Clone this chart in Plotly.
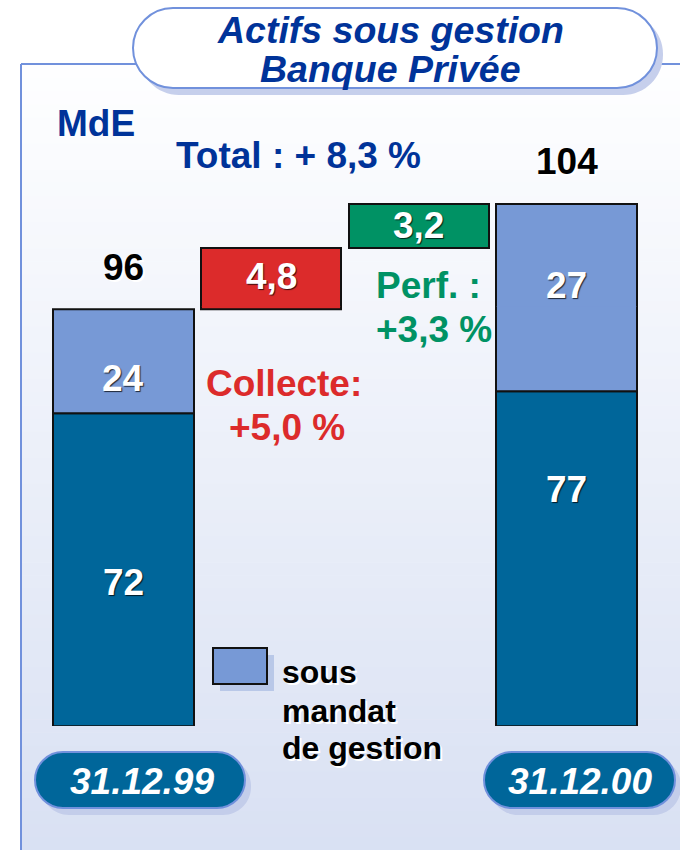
import plotly.graph_objects as go

# ---------------- data ----------------
dates = ["31.12.99", "31.12.00"]
hors_mandat = [72, 77]          # dark segment
sous_mandat = [24, 27]          # light segment ("sous mandat de gestion")
totals = [96, 104]
collecte = 4.8
perf = 3.2
collecte_pct = "+5,0 %"
perf_pct = "+3,3 %"
total_pct = "+ 8,3 %"
unit = "MdE"
title_lines = ["Actifs sous gestion", "Banque Privée"]
legend_lines = ["sous", "mandat", "de gestion"]

W, H = 680, 850
FONT = "Arial, 'Liberation Sans', sans-serif"
DARK = "#00669a"
LIGHT = "#7799d6"
RED = "#dc2b2b"
GREEN = "#009264"
NAVY = "#003399"
FRAME = "#7191dc"
FS = 37


def fx(px):
    return px / W


def fy(py):
    return 1 - py / H


def rrect_path(x0, y0, x1, y1, r):
    k = 0.5523 * r
    def P(x, y):
        return f"{fx(x):.5f},{fy(y):.5f}"
    s = f"M {P(x0 + r, y0)} L {P(x1 - r, y0)} "
    s += f"C {P(x1 - r + k, y0)} {P(x1, y0 + r - k)} {P(x1, y0 + r)} "
    s += f"L {P(x1, y1 - r)} "
    s += f"C {P(x1, y1 - r + k)} {P(x1 - r + k, y1)} {P(x1 - r, y1)} "
    s += f"L {P(x0 + r, y1)} "
    s += f"C {P(x0 + r - k, y1)} {P(x0, y1 - r + k)} {P(x0, y1 - r)} "
    s += f"L {P(x0, y0 + r)} "
    s += f"C {P(x0, y0 + r - k)} {P(x0 + r - k, y0)} {P(x0 + r, y0)} Z"
    return s


def fmt(v):
    return f"{v:.1f}".replace(".", ",")


fig = go.Figure()

# positions of the four columns
xpos_bars = [0, 3]
x_collecte = 1
x_perf = 2

bar_specs = [
    dict(x=xpos_bars, y=hors_mandat, base=[0, 0], color=DARK),
    dict(x=xpos_bars, y=sous_mandat, base=hors_mandat, color=LIGHT),
    dict(x=[x_collecte], y=[collecte], base=[totals[0]], color=RED),
    dict(x=[x_perf], y=[perf], base=[totals[0] + collecte], color=GREEN),
]
for yax in ["y", "y2"]:
    for b in bar_specs:
        fig.add_bar(x=b["x"], y=b["y"], base=b["base"], yaxis=yax, width=0.95,
                    marker=dict(color=b["color"], line=dict(color="#111111", width=2)),
                    showlegend=False, hoverinfo="skip")

shapes = []
# background gradient inside frame
top_c = (254, 254, 255)
bot_c = (217, 225, 243)
n = 60
y_top, y_bot = 65, 850
for i in range(n):
    t = i / (n - 1)
    c = tuple(round(top_c[j] + (bot_c[j] - top_c[j]) * t) for j in range(3))
    ya = y_top + (y_bot - y_top) * i / n
    yb = y_top + (y_bot - y_top) * (i + 1) / n + 0.6
    shapes.append(dict(type="rect", xref="paper", yref="paper", layer="below",
                       x0=fx(22), x1=fx(680), y0=fy(ya), y1=fy(yb),
                       fillcolor=f"rgb{c}", line=dict(width=0)))
# frame lines
shapes.append(dict(type="line", xref="paper", yref="paper", layer="below",
                   x0=fx(21), x1=fx(21), y0=fy(64), y1=fy(850), line=dict(color=FRAME, width=2)))
shapes.append(dict(type="line", xref="paper", yref="paper", layer="below",
                   x0=fx(21), x1=fx(680), y0=fy(64), y1=fy(64), line=dict(color=FRAME, width=2)))
# title pill with shadow
shapes.append(dict(type="path", xref="paper", yref="paper", layer="below",
                   path=rrect_path(139, 14, 663, 95, 40), fillcolor="#c6cfec", line=dict(width=0)))
shapes.append(dict(type="path", xref="paper", yref="paper", layer="below",
                   path=rrect_path(133, 8, 657, 88, 40), fillcolor="white",
                   line=dict(color=FRAME, width=2)))
# date pills
for (x0, x1) in [(35, 245), (484, 675)]:
    shapes.append(dict(type="path", xref="paper", yref="paper", layer="below",
                       path=rrect_path(x0 + 6, 758, x1 + 6, 815, 28), fillcolor="#c3cdea",
                       line=dict(width=0)))
    shapes.append(dict(type="path", xref="paper", yref="paper", layer="below",
                       path=rrect_path(x0, 752, x1, 808, 28), fillcolor=DARK,
                       line=dict(color=FRAME, width=2)))
# legend swatch with shadow
shapes.append(dict(type="rect", xref="paper", yref="paper", layer="below",
                   x0=fx(220), x1=fx(274), y0=fy(655), y1=fy(691),
                   fillcolor="#b9c8e8", line=dict(width=0)))
shapes.append(dict(type="rect", xref="paper", yref="paper", layer="below",
                   x0=fx(213), x1=fx(267), y0=fy(648), y1=fy(684),
                   fillcolor=LIGHT, line=dict(color="#111111", width=2)))

ann = []


def txt(text, px, py, color, size, xanchor="center", italic=False, shadow=None):
    f = dict(family=FONT, size=size, color=color, weight="bold")
    if italic:
        f["style"] = "italic"
    if shadow:
        f["shadow"] = shadow
    ann.append(dict(text=text, x=fx(px), y=fy(py), xref="paper", yref="paper",
                    xanchor=xanchor, yanchor="middle", showarrow=False, font=f))


txt(title_lines[0], 390, 30, NAVY, 37.5, italic=True)
txt(title_lines[1], 390, 69, NAVY, 37.5, italic=True)
txt(unit, 96, 123, NAVY, FS)
txt(f"Total : {total_pct}", 298, 155, NAVY, FS)
txt("Collecte:", 284, 383, RED, FS)
txt(collecte_pct, 287, 427, RED, FS)
txt("Perf. :", 374, 286, GREEN, FS, xanchor="left")
txt(perf_pct, 374, 330, GREEN, FS, xanchor="left")
for i, line in enumerate(legend_lines):
    txt(line, 280, [672, 711, 748][i], "black", 32, xanchor="left", shadow="2px 2px 0px white")
txt(dates[0], 142, 781, "white", 37, italic=True)
txt(dates[1], 580, 781, "white", 37, italic=True)

WHITE_SH = "1px 1px 1px rgba(0,0,0,0.75)"
# value labels inside segments
label_shift_dark = [-13, 69]
label_shift_light = [-17, 47]
for i, xp in enumerate(xpos_bars):
    ann.append(dict(text=str(hors_mandat[i]), x=xp, y=hors_mandat[i] / 2, xref="x", yref="y",
                    yshift=label_shift_dark[i], showarrow=False,
                    font=dict(family=FONT, size=FS, color="white", weight="bold", shadow=WHITE_SH)))
    ann.append(dict(text=str(sous_mandat[i]), x=xp, y=hors_mandat[i] + sous_mandat[i] / 2,
                    xref="x", yref="y", yshift=label_shift_light[i], showarrow=False,
                    font=dict(family=FONT, size=FS, color="white", weight="bold", shadow=WHITE_SH)))
ann.append(dict(text=str(totals[0]), x=xpos_bars[0], y=totals[0], xref="x", yref="y",
                yshift=41, showarrow=False,
                font=dict(family=FONT, size=FS, color="black", weight="bold", shadow="2px 2px 0px white")))
ann.append(dict(text=str(totals[1]), x=xpos_bars[1], y=totals[1], xref="x", yref="y2",
                yshift=42, showarrow=False,
                font=dict(family=FONT, size=FS, color="black", weight="bold", shadow="2px 2px 0px white")))
ann.append(dict(text=fmt(collecte), x=x_collecte, y=totals[0] + collecte / 2, xref="x", yref="y2",
                yshift=4, showarrow=False,
                font=dict(family=FONT, size=FS, color="white", weight="bold", shadow=WHITE_SH)))
ann.append(dict(text=fmt(perf), x=x_perf, y=totals[0] + collecte + perf / 2, xref="x", yref="y2",
                yshift=0, showarrow=False,
                font=dict(family=FONT, size=FS, color="white", weight="bold", shadow=WHITE_SH)))

# broken value axis: lower part 0..96.5 (slightly overlapping the upper part to avoid a seam)
lower_scale = 4.34375          # px per unit
upper_bottom_px = 306.83
overlap_px = 1.5
lower_top = 96.5 + overlap_px / lower_scale

fig.update_layout(
    width=W, height=H, margin=dict(l=0, r=0, t=0, b=0),
    paper_bgcolor="white", plot_bgcolor="rgba(0,0,0,0)",
    barmode="overlay", bargap=0, showlegend=False,
    xaxis=dict(range=[-0.836, 3.768], domain=[0, 1], visible=False, fixedrange=True),
    yaxis=dict(range=[0, lower_top], domain=[(H - 726) / H, (H - upper_bottom_px + overlap_px) / H],
               visible=False, fixedrange=True),
    yaxis2=dict(range=[96.5, 108.667], domain=[(H - upper_bottom_px) / H, (H - 140) / H],
                visible=False, anchor="x", fixedrange=True),
    shapes=shapes, annotations=ann,
)

fig.write_html("out.html", config={"displayModeBar": False},
               post_script="document.body.style.margin='0px';document.body.style.padding='0px';")
